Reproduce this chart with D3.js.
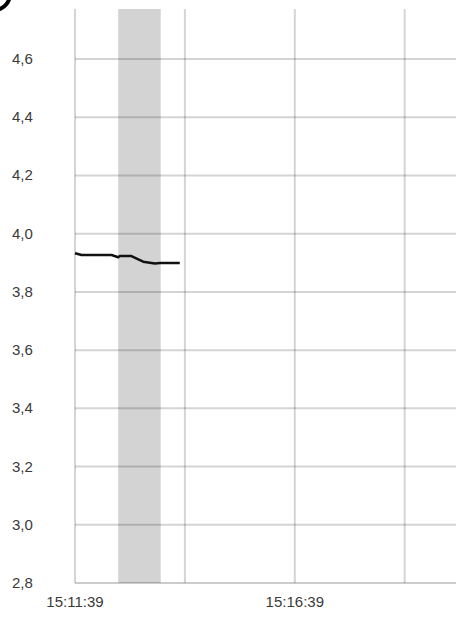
<!DOCTYPE html>
<html>
<head>
<meta charset="utf-8">
<script src="https://cdn.jsdelivr.net/npm/d3@7"></script>
<style>
  html, body { margin: 0; padding: 0; background: #fff; overflow: hidden; }
  svg { display: block; }
  .tick-label { font-family: 'Liberation Sans Narrow', 'Arial Narrow', sans-serif; font-size: 15px; fill: #3a3a3a; }
</style>
</head>
<body>
<div id="chart"></div>
<script>
// Measured series (time of sample, reading)
const sampleTimes = ['15:11:39', '15:11:48', '15:12:29', '15:12:38', '15:12:40', '15:12:56', '15:13:12', '15:13:28', '15:13:35', '15:14:02'];
const sampleValues = [3.933, 3.927, 3.927, 3.919, 3.923, 3.923, 3.904, 3.898, 3.899, 3.899];

// Highlighted interval
const bandStart = '15:12:38';
const bandEnd = '15:13:36';

// Axis setup
const xStart = '15:11:39';
const xEnd = '15:20:19';
const yTicks = [2.8, 3.0, 3.2, 3.4, 3.6, 3.8, 4.0, 4.2, 4.4, 4.6];
const yMin = 2.8;
const yMax = 4.772;
const gridStepSec = 150;
const labelStepSec = 300;

const parseTime = d3.timeParse('%H:%M:%S');
const fmtTime = d3.timeFormat('%H:%M:%S');
const fmtVal = (v) => v.toFixed(1).replace('.', ',');

const width = 456;
const height = 617;
const padding = { left: 75, right: 0, top: 9, bottom: 34 };

const svg = d3.select('#chart')
  .append('svg')
  .attr('width', width)
  .attr('height', height);

const t0 = parseTime(xStart);
const t1 = parseTime(xEnd);

const xscale = d3.scaleTime()
  .domain([t0, t1])
  .range([padding.left, width - padding.right]);

const yscale = d3.scaleLinear()
  .domain([yMin, yMax])
  .range([height - padding.bottom, padding.top]);

// Shaded band
svg.append('rect')
  .attr('x', xscale(parseTime(bandStart)))
  .attr('y', padding.top)
  .attr('width', xscale(parseTime(bandEnd)) - xscale(parseTime(bandStart)))
  .attr('height', yscale(yMin) - padding.top)
  .attr('fill', '#d3d3d3');

// Vertical grid every 2.5 minutes
const gridTimes = d3.range(0, (t1 - t0) / 1000, gridStepSec).map((s) => new Date(t0.getTime() + s * 1000));

svg.append('g')
  .selectAll('line')
  .data(gridTimes)
  .enter()
  .append('line')
  .attr('x1', (d) => xscale(d))
  .attr('x2', (d) => xscale(d))
  .attr('y1', padding.top)
  .attr('y2', yscale(yMin))
  .attr('stroke', 'rgba(0,0,0,0.17)')
  .attr('stroke-width', 2);

// Horizontal grid
svg.append('g')
  .selectAll('line')
  .data(yTicks)
  .enter()
  .append('line')
  .attr('x1', padding.left)
  .attr('x2', width)
  .attr('y1', (d) => yscale(d))
  .attr('y2', (d) => yscale(d))
  .attr('stroke', (d) => (d === yMin ? 'rgba(0,0,0,0.2)' : 'rgba(0,0,0,0.17)'))
  .attr('stroke-width', 2);

// Y labels
svg.append('g')
  .selectAll('text')
  .data(yTicks)
  .enter()
  .append('text')
  .attr('class', 'tick-label')
  .attr('x', 12)
  .attr('y', (d) => yscale(d) + 5)
  .text(fmtVal);

// X labels every 5 minutes
const labelTimes = d3.range(0, (t1 - t0) / 1000, labelStepSec).map((s) => new Date(t0.getTime() + s * 1000));

svg.append('g')
  .selectAll('text')
  .data(labelTimes)
  .enter()
  .append('text')
  .attr('class', 'tick-label')
  .attr('x', (d) => xscale(d))
  .attr('y', 607)
  .attr('text-anchor', 'middle')
  .text(fmtTime);

// Data line
const lineData = sampleTimes.map((t, i) => ({ t: parseTime(t), v: sampleValues[i] }));

svg.append('path')
  .datum(lineData)
  .attr('fill', 'none')
  .attr('stroke', '#111')
  .attr('stroke-width', 2.5)
  .attr('stroke-linejoin', 'round')
  .attr('d', d3.line().x((d) => xscale(d.t)).y((d) => yscale(d.v)));

// Partial icon ring at the top-left corner
svg.append('path')
  .attr('d', d3.arc()({ innerRadius: 14, outerRadius: 18, startAngle: Math.PI / 2, endAngle: Math.PI }))
  .attr('transform', 'translate(-6,-6)')
  .attr('fill', '#000');
</script>
</body>
</html>
